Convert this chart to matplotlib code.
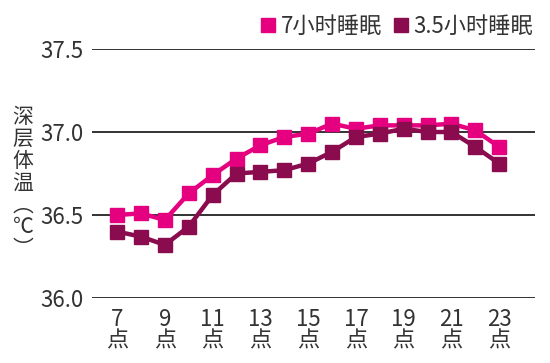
import matplotlib.pyplot as plt
from matplotlib.lines import Line2D

plt.rcParams['font.family'] = ['Noto Sans CJK SC', 'DejaVu Sans']

# data
hours = [7, 8, 9, 10, 11, 12, 13, 14, 15, 16, 17, 18, 19, 20, 21, 22, 23]
sleep_7h = [36.50, 36.51, 36.47, 36.63, 36.74, 36.84, 36.92, 36.97, 36.99, 37.05, 37.02,
            37.04, 37.04, 37.04, 37.05, 37.01, 36.91]
sleep_35h = [36.40, 36.37, 36.32, 36.43, 36.62, 36.75, 36.76, 36.77, 36.81, 36.88, 36.97,
             36.99, 37.02, 37.00, 37.00, 36.91, 36.81]
tick_hours = [7, 9, 11, 13, 15, 17, 19, 21, 23]
tick_labels = [f'{h}\n点' for h in tick_hours]
yticks = [36.0, 36.5, 37.0, 37.5]
names = ['7小时睡眠', '3.5小时睡眠']
colors = ['#e5007f', '#8a0b4e']

text_color = '#333333'

fig = plt.figure(figsize=(5.5, 3.63), dpi=100)
ax = fig.add_axes([0.1673, 0.179, 0.8055, 0.686])

for y in yticks:
    ax.axhline(y, color='#333333', lw=1.4, zorder=1)

for vals, c in zip([sleep_7h, sleep_35h], colors):
    ax.plot(hours, vals, color=c, lw=3.2, marker='s', markersize=10, zorder=3, clip_on=False)

ax.set_xlim(5.95, 24.5)
ax.set_ylim(36.0, 37.5)
ax.set_yticks(yticks)
ax.set_yticklabels([f'{v:.1f}' for v in yticks], fontsize=16, color=text_color)
ax.set_xticks(tick_hours)
ax.set_xticklabels(tick_labels, fontsize=16, color=text_color, linespacing=0.95)
ax.tick_params(length=0, axis='y', pad=6)
ax.tick_params(length=0, axis='x', pad=7)
for s in ax.spines.values():
    s.set_visible(False)

# vertical y label
fig.text(0.042, 0.495, '\n'.join('深层体温︵℃︶'), fontsize=15, color=text_color,
         ha='center', va='center', linespacing=1.0)

handles = [Line2D([], [], color=c, marker='s', linestyle='none', markersize=10) for c in colors]
ax.legend(handles, names, loc='lower right', bbox_to_anchor=(1.025, 0.99), ncol=2, frameon=False,
          fontsize=16, handlelength=0.7, handletextpad=0.2, columnspacing=0.5,
          borderaxespad=0.2, labelcolor=text_color)

fig.savefig('out.png', dpi=100)
